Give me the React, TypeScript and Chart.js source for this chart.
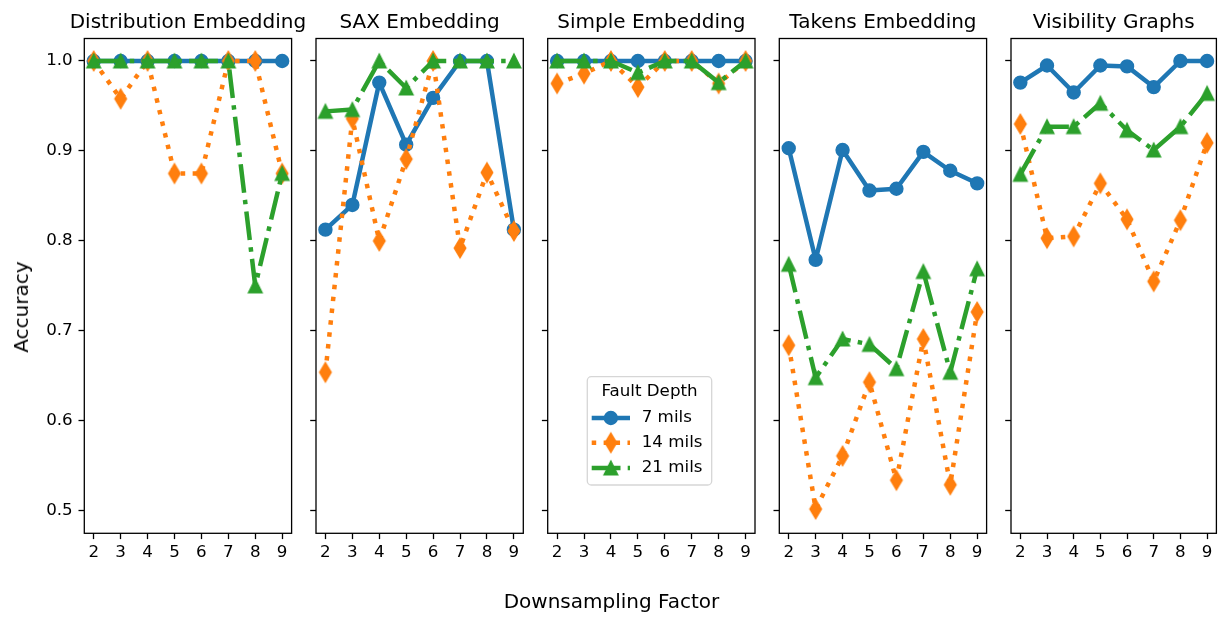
import { useEffect, useRef } from "react";
import { Chart, registerables } from "chart.js";

Chart.register(...registerables);

// ---- data -------------------------------------------------------------
const factors = [2, 3, 4, 5, 6, 7, 8, 9];
const yTickValues = [0.5, 0.6, 0.7, 0.8, 0.9, 1.0];
const seriesLabels = ["7 mils", "14 mils", "21 mils"];
const panelTitles = [
  "Distribution Embedding",
  "SAX Embedding",
  "Simple Embedding",
  "Takens Embedding",
  "Visibility Graphs",
];

const distribution7 = [1, 1, 1, 1, 1, 1, 1, 1];
const distribution14 = [1, 0.958, 1, 0.875, 0.875, 1, 1, 0.875];
const distribution21 = [1, 1, 1, 1, 1, 1, 0.75, 0.875];

const sax7 = [0.8125, 0.84, 0.976, 0.907, 0.959, 1, 1, 0.8125];
const sax14 = [0.654, 0.936, 0.8, 0.891, 1, 0.792, 0.876, 0.811];
const sax21 = [0.944, 0.946, 1, 0.97, 1, 1, 1, 1];

const simple7 = [1, 1, 1, 1, 1, 1, 1, 1];
const simple14 = [0.975, 0.986, 1, 0.971, 1, 1, 0.975, 1];
const simple21 = [1, 1, 1, 0.987, 1, 1, 0.976, 1];

const takens7 = [0.903, 0.779, 0.901, 0.856, 0.858, 0.899, 0.878, 0.864];
const takens14 = [0.684, 0.502, 0.561, 0.643, 0.534, 0.691, 0.529, 0.721];
const takens21 = [0.774, 0.648, 0.691, 0.685, 0.658, 0.766, 0.654, 0.769];

const visibility7 = [0.976, 0.995, 0.965, 0.995, 0.994, 0.971, 1, 1];
const visibility14 = [0.93, 0.803, 0.805, 0.864, 0.824, 0.755, 0.823, 0.909];
const visibility21 = [0.874, 0.927, 0.927, 0.953, 0.923, 0.901, 0.927, 0.964];

const panelSeries = [
  [distribution7, distribution14, distribution21],
  [sax7, sax14, sax21],
  [simple7, simple14, simple21],
  [takens7, takens14, takens21],
  [visibility7, visibility14, visibility21],
];

// ---- styling ----------------------------------------------------------
const FONT = "'DejaVu Sans', 'Liberation Sans', sans-serif";
const FIG_W = 1225;
const FIG_H = 624;
const AREA_TOP = 38.5;
const AREA_BOTTOM = 533.3;
const PANEL_LEFTS = [84.3, 316, 547.7, 779.3, 1011];
const PANEL_W = 207.3;
const X_AXIS_H = 40;
const LW = 4.5;
const TICK_FONT = { family: FONT, size: 16.7 };

const COLORS = ["#1f77b4", "#ff7f0e", "#2ca02c"];
const DASHES: number[][] = [
  [],
  [1 * LW, 1.65 * LW],
  [6.4 * LW, 1.6 * LW, 1 * LW, 1.6 * LW],
];
const CAPS: CanvasLineCap[] = ["square", "butt", "butt"];

function makeDiamond(color: string): HTMLCanvasElement {
  const c = document.createElement("canvas");
  c.width = 18;
  c.height = 26;
  const g = c.getContext("2d")!;
  const cx = 9, cy = 13, hw = 5.65, hh = 9.4;
  g.beginPath();
  g.moveTo(cx, cy - hh);
  g.lineTo(cx + hw, cy);
  g.lineTo(cx, cy + hh);
  g.lineTo(cx - hw, cy);
  g.closePath();
  g.fillStyle = color;
  g.fill();
  g.lineWidth = 1.6;
  g.lineJoin = "miter";
  g.strokeStyle = color;
  g.stroke();
  return c;
}

function makeTriangle(color: string): HTMLCanvasElement {
  const c = document.createElement("canvas");
  c.width = 20;
  c.height = 20;
  const g = c.getContext("2d")!;
  const cx = 10, cy = 10, h = 6.65;
  g.beginPath();
  g.moveTo(cx, cy - h);
  g.lineTo(cx + h, cy + h);
  g.lineTo(cx - h, cy + h);
  g.closePath();
  g.fillStyle = color;
  g.fill();
  g.lineWidth = 1.6;
  g.lineJoin = "miter";
  g.strokeStyle = color;
  g.stroke();
  return c;
}

// Frame, panel title and (optionally) the legend box.
const panelDecor = {
  id: "panelDecor",
  afterDraw(chart: any, _args: any, opts: any) {
    const { ctx, chartArea } = chart;
    const { left, top, right, bottom } = chartArea;
    ctx.save();
    ctx.strokeStyle = "#000";
    ctx.lineWidth = 1.3;
    ctx.strokeRect(left, top, right - left, bottom - top);

    ctx.fillStyle = "#000";
    ctx.font = `20px ${FONT}`;
    ctx.textAlign = "center";
    ctx.textBaseline = "alphabetic";
    ctx.fillText(opts.title, (left + right) / 2, top - 10.5);

    if (opts.showLegend) {
      const bx = left + 39.6;
      const by = top + 338.2;
      const bw = 124.4;
      const bh = 108.3;
      ctx.beginPath();
      ctx.roundRect(bx, by, bw, bh, 4);
      ctx.fillStyle = "rgba(255,255,255,0.8)";
      ctx.fill();
      ctx.strokeStyle = "rgba(204,204,204,0.8)";
      ctx.lineWidth = 1.3;
      ctx.stroke();

      ctx.fillStyle = "#000";
      ctx.font = `16.7px ${FONT}`;
      ctx.textAlign = "center";
      ctx.textBaseline = "middle";
      ctx.fillText("Fault Depth", bx + bw / 2, by + 15);

      const rows = [by + 41.3, by + 66, by + 91.3];
      chart.data.datasets.forEach((ds: any, k: number) => {
        const yRow = rows[k];
        const x0 = bx + 4.4;
        const x1 = bx + 42.7;
        ctx.save();
        ctx.strokeStyle = ds.borderColor;
        ctx.lineWidth = ds.borderWidth;
        ctx.lineCap = ds.borderCapStyle;
        ctx.setLineDash(ds.borderDash);
        ctx.beginPath();
        ctx.moveTo(x0 + (k === 0 ? LW / 2 : 0), yRow);
        ctx.lineTo(x1 - (k === 0 ? LW / 2 : 0), yRow);
        ctx.stroke();
        ctx.restore();
        const mx = (x0 + x1) / 2;
        const ps = ds.pointStyle;
        if (typeof ps === "string") {
          ctx.beginPath();
          ctx.arc(mx, yRow, ds.pointRadius, 0, Math.PI * 2);
          ctx.fillStyle = ds.pointBackgroundColor;
          ctx.fill();
          ctx.lineWidth = ds.pointBorderWidth;
          ctx.strokeStyle = ds.pointBorderColor;
          ctx.stroke();
        } else {
          ctx.drawImage(ps, mx - ps.width / 2, yRow - ps.height / 2);
        }
        ctx.fillStyle = "#000";
        ctx.textAlign = "left";
        ctx.textBaseline = "middle";
        ctx.fillText(seriesLabels[k], bx + 54.4, yRow);
      });
    }
    ctx.restore();
  },
};

function Panel({ index }: { index: number }) {
  const ref = useRef<HTMLCanvasElement | null>(null);

  useEffect(() => {
    const canvas = ref.current;
    if (!canvas) return;
    const markers: any[] = [
      "circle",
      makeDiamond(COLORS[1]),
      makeTriangle(COLORS[2]),
    ];
    const left = PANEL_LEFTS[index];
    // the first panel carries the shared tick labels, so its axis box is wider
    const yAxisW = index === 0 ? 64 : 20;
    const datasets = panelSeries[index].map((vals, k) => ({
      label: seriesLabels[k],
      data: factors.map((x, j) => ({ x, y: vals[j] })),
      borderColor: COLORS[k],
      backgroundColor: COLORS[k],
      borderWidth: LW,
      borderDash: DASHES[k],
      borderCapStyle: CAPS[k],
      borderJoinStyle: "round" as CanvasLineJoin,
      pointStyle: markers[k],
      pointRadius: k === 0 ? 6.4 : 7,
      pointBorderWidth: 1.6,
      pointBackgroundColor: COLORS[k],
      pointBorderColor: COLORS[k],
      tension: 0,
      order: 3 - k,
      clip: false as any,
    }));

    const chart = new Chart(canvas, {
      type: "line",
      data: { datasets },
      plugins: [panelDecor],
      options: {
        animation: false,
        responsive: false,
        events: [],
        layout: {
          padding: {
            left: left - yAxisW,
            right: FIG_W - (left + PANEL_W),
            top: AREA_TOP,
            bottom: FIG_H - AREA_BOTTOM - X_AXIS_H,
          },
        },
        scales: {
          x: {
            type: "linear",
            min: 1.65,
            max: 9.35,
            afterBuildTicks: (s: any) => {
              s.ticks = factors.map((v) => ({ value: v }));
            },
            afterFit: (s: any) => {
              s.height = X_AXIS_H;
            },
            grid: {
              drawOnChartArea: false,
              drawTicks: true,
              tickLength: 5.8,
              tickWidth: 1.3,
              tickColor: "#000",
            },
            border: { display: false },
            ticks: {
              autoSkip: false,
              maxRotation: 0,
              padding: 4,
              color: "#000",
              font: TICK_FONT,
              callback: (v: any) => String(v),
            },
          },
          y: {
            type: "linear",
            min: 0.475,
            max: 1.025,
            afterBuildTicks: (s: any) => {
              s.ticks = yTickValues.map((v) => ({ value: v }));
            },
            afterFit: (s: any) => {
              s.width = yAxisW;
            },
            grid: {
              drawOnChartArea: false,
              drawTicks: true,
              tickLength: 5.8,
              tickWidth: 1.3,
              tickColor: "#000",
            },
            border: { display: false },
            ticks: {
              autoSkip: false,
              padding: 5.8,
              color: "#000",
              font: TICK_FONT,
              callback: (v: any) => (index === 0 ? Number(v).toFixed(1) : ""),
            },
          },
        },
        plugins: {
          legend: { display: false },
          tooltip: { enabled: false },
          panelDecor: { title: panelTitles[index], showLegend: index === 2 },
        } as any,
      },
    });
    return () => chart.destroy();
  }, [index]);

  return (
    <canvas
      ref={ref}
      width={FIG_W}
      height={FIG_H}
      style={{ position: "absolute", left: 0, top: 0, width: FIG_W, height: FIG_H }}
    />
  );
}

export default function App() {
  const labelStyle: React.CSSProperties = {
    position: "absolute",
    fontFamily: FONT,
    fontSize: 20,
    lineHeight: "20px",
    whiteSpace: "nowrap",
    color: "#000",
  };
  return (
    <div
      style={{
        position: "absolute",
        left: 0,
        top: 0,
        width: FIG_W,
        height: FIG_H,
        background: "#fff",
        overflow: "hidden",
      }}
    >
      {panelTitles.map((_, i) => (
        <Panel key={i} index={i} />
      ))}
      <div
        style={{
          ...labelStyle,
          left: 611.5,
          top: 601,
          transform: "translate(-50%, -50%)",
        }}
      >
        Downsampling Factor
      </div>
      <div
        style={{
          ...labelStyle,
          left: 21,
          top: 307,
          transform: "translate(-50%, -50%) rotate(-90deg)",
        }}
      >
        Accuracy
      </div>
    </div>
  );
}
